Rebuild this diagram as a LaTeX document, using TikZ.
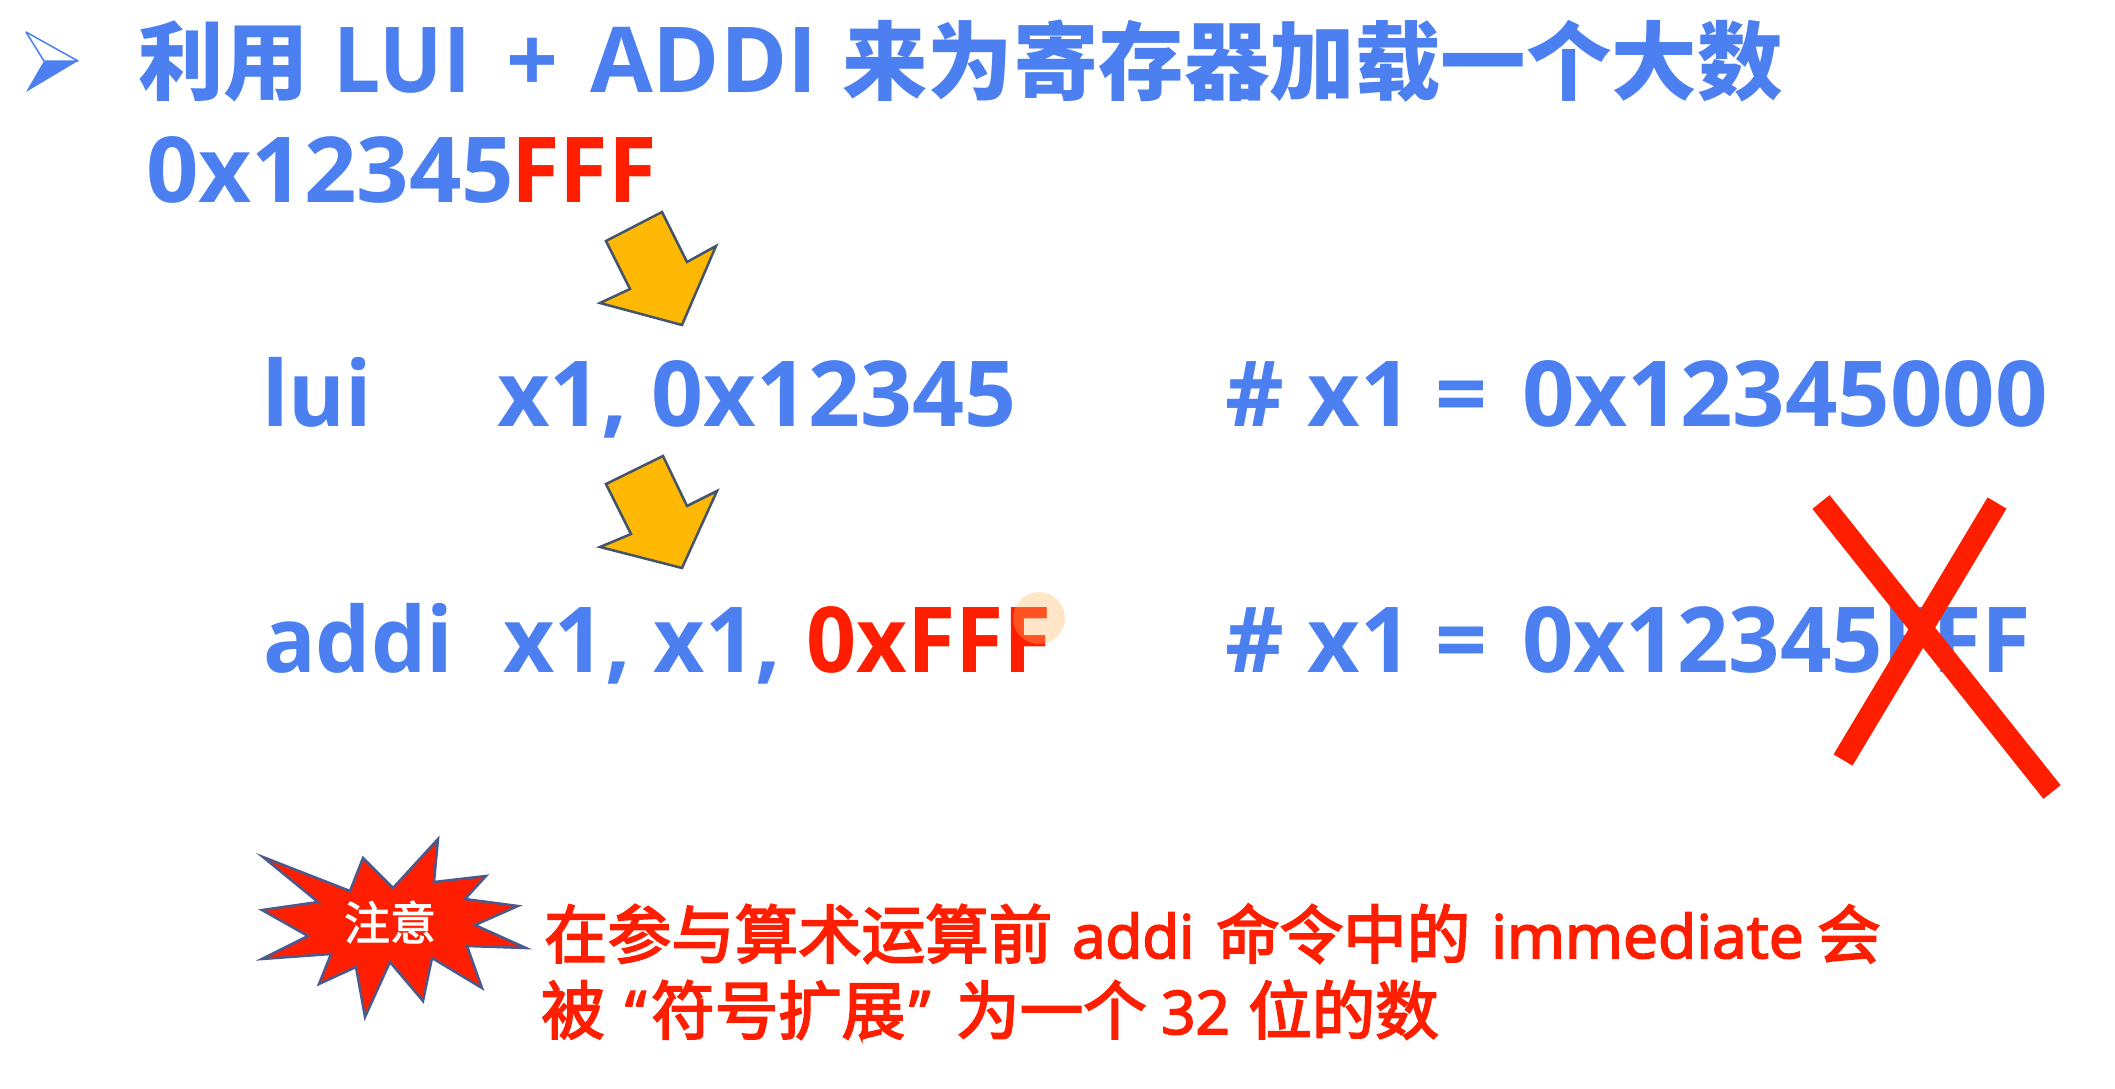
\documentclass[tikz,border=0pt]{standalone}
\usepackage{fontspec}
\setmainfont{Open Sans}
\newfontfamily\cjk{Noto Sans CJK SC}
\usetikzlibrary{positioning}
\definecolor{slideblue}{HTML}{4C7FF0}
\definecolor{slidered}{HTML}{FF1E00}
\definecolor{slideamber}{HTML}{FFB905}
\definecolor{slideedge}{HTML}{44546A}
\definecolor{burstedge}{HTML}{4A5A8C}
\definecolor{slidespark}{HTML}{FFB860}
\newcommand{\squeezed}[2]{{\addfontfeature{FakeStretch=#1}#2}}
\tikzset{
    codeline/.style={
        anchor=base west, inner sep=0pt, text=slideblue,
        font=\fontsize{91}{100}\selectfont\bfseries,
    },
    headzh/.style={
        codeline,
        font=\fontsize{85.5}{100}\selectfont\cjk\bfseries,
    },
    noteline/.style={
        anchor=base west, inner sep=0pt, text=slidered,
        font=\fontsize{60}{74}\selectfont\addfontfeature{FakeBold=3},
    },
    notezh/.style={
        anchor=base west, inner sep=0pt, text=slidered,
        font=\fontsize{63.5}{74}\selectfont\cjk\addfontfeature{FakeBold=3},
    },
    blockarrow/.style={
        draw=slideedge, line width=2.5pt, line join=miter, fill=slideamber,
    },
    crossbar/.style={
        draw=slidered, line width=22pt,
    },
}

\begin{document}
\begin{tikzpicture}[x=1pt, y=-1pt]
    \useasboundingbox (0,0) rectangle (2115,1088);

    % bullet
    \draw[slideblue, line width=1.5pt, line join=round] (26,32) -- (78,61) -- (44,61) -- cycle;
    \fill[slideblue] (44,61) -- (78,61) -- (26,92) -- cycle;

    \node (headleft) at(138,93) [headzh] {利用};
    \node (headlui) at(333,92) [codeline] {\squeezed{0.92}{LUI}};
    \node (headplus) at(506,92) [codeline] {+};
    \node (headaddi) at(590,92) [codeline] {ADDI};
    \node (headright) at(842,93) [headzh] {来为寄存器加载一个大数};
    \node (number) at(146,202) [codeline] {\squeezed{1.01}{0x12345}};
    \node (numberfff) at(511,202) [codeline, text=slidered] {\squeezed{0.97}{FFF}};

    \draw[blockarrow] (662,212) -- (687,262) -- (716,246) -- (682,325)
        -- (600,303) -- (630,289) -- (606,241) -- cycle;

    \node (luiop) at(262,426) [codeline] {\squeezed{0.95}{lui}};
    \node (luiargs) at(497,426) [codeline] {x1, 0x12345};
    \node (luinote) at(1225,426) [codeline] {\# x1 =};
    \node (luivalue) at(1522,426) [codeline] {\squeezed{1.01}{0x12345000}};

    \draw[blockarrow] (663,456) -- (687,506) -- (717,491) -- (682,568)
        -- (600,547) -- (631,534) -- (606,484) -- cycle;

    \node (addiop) at(263,672) [codeline] {\squeezed{0.96}{addi}};
    \node (addiargs) at(503,672) [codeline] {\squeezed{0.975}{x1, x1,}};
    \node (addiimm) at(806,672) [codeline, text=slidered] {\squeezed{0.965}{0xFFF}};
    \node (addinote) at(1225,672) [codeline] {\# x1 =};
    \node (addivalue) at(1522,672) [codeline] {\squeezed{0.99}{0x12345FFF}};

    \fill[slidespark, opacity=0.35] (1039,618) circle (26);

    \draw[crossbar] (1821,502) -- (2052,792);
    \draw[crossbar] (1997,503) -- (1843,760);

    % warning burst
    \draw[fill=slidered, draw=burstedge, line width=2.5pt, line join=miter]
        (263,857) -- (350,891) -- (363,858) -- (393,888) -- (438,839) -- (434,882)
        -- (486,876) -- (465,899) -- (518,906) -- (475,925) -- (526,948) -- (467,946)
        -- (482,988) -- (432,958) -- (423,1001) -- (390,962) -- (365,1017) -- (356,967)
        -- (319,984) -- (331,954) -- (262,959) -- (308,936) -- (262,910) -- (318,902) -- cycle;
    \node (notice) at(390,922) [inner sep=0pt, text=white, font=\fontsize{46}{50}\selectfont\cjk\addfontfeature{FakeBold=2}] {注意};

    \node (noteone) at(544,958) [notezh] {在参与算术运算前};
    \node (noteaddi) at(1072,958) [noteline] {addi};
    \node (notecmd) at(1216,958) [notezh] {命令中的};
    \node (noteimm) at(1491,958) [noteline] {\squeezed{1.04}{immediate}};
    \node (notewill) at(1817,958) [notezh] {会};
    \node (notetwo) at(541,1034) [notezh] {被};
    \node (notequoteleft) at(625,1034) [noteline] {“};
    \node (notesymbol) at(651,1034) [notezh] {符号扩展};
    \node (notequoteright) at(909,1034) [noteline] {”};
    \node (noteas) at(956,1034) [notezh] {为一个};
    \node (notesize) at(1161,1034) [noteline] {32};
    \node (notetail) at(1248,1034) [notezh] {位的数};
\end{tikzpicture}
\end{document}
